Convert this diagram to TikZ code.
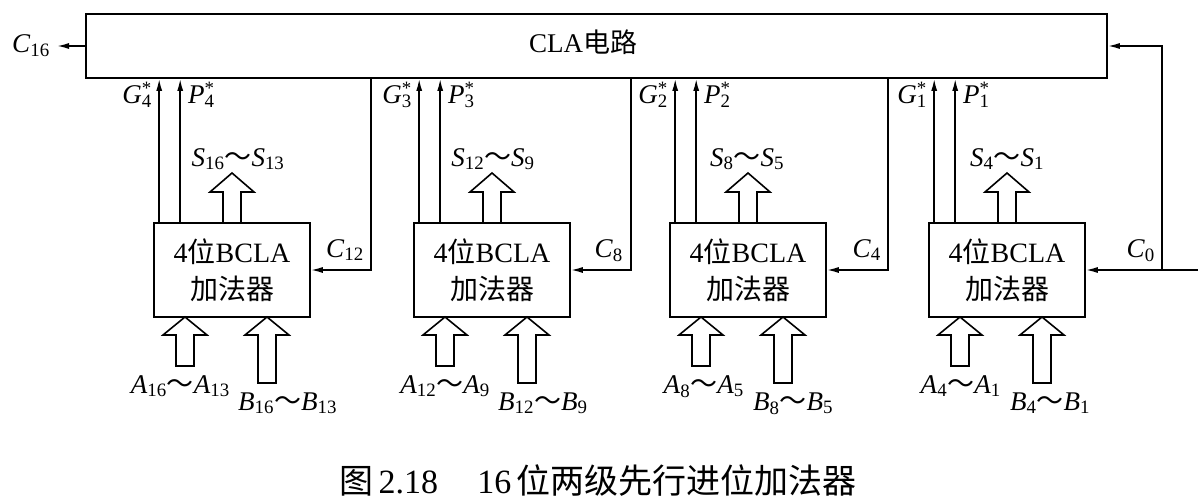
\documentclass[tikz,border=0pt]{standalone}
\usepackage{fontspec}
\setmainfont{Liberation Serif}
\newfontfamily\cjk{Noto Sans CJK SC}
\usetikzlibrary{arrows.meta}
\newcommand{\rng}[3]{\textit{#1}\textsubscript{#2}{\cjk ～}\textit{#1}\textsubscript{#3}}
\newcommand{\gp}[2]{\textit{#1}\rlap{\textsuperscript{*}}\textsubscript{#2}}
% hollow wide arrow: x, y of shaft end, y of tip, y of head base
\newcommand{\fatarrow}[4]{%
  \draw[line width=1.6pt, fill=white] (#1-9,#2) -- (#1-9,#4) -- (#1-22,#4) -- (#1,#3)
    -- (#1+22,#4) -- (#1+9,#4) -- (#1+9,#2) -- cycle;}
\tikzset{
  adder/.style={draw, line width=1.6pt, minimum width=156pt, minimum height=94pt,
    inner sep=0pt, align=center, font=\fontsize{28}{37}\selectfont},
  sig/.style={line width=1.6pt, -{Latex[length=12pt,width=6pt]}},
  lbl/.style={inner sep=0pt, font=\fontsize{27}{30}\selectfont}
}

\begin{document}
\begin{tikzpicture}[x=1pt, y=-1pt]
  \useasboundingbox (0,0) rectangle (1198,500);

  % === CLA CIRCUIT ===
  \node[draw, line width=1.6pt, minimum width=1021pt, minimum height=64pt, inner sep=0pt]
    (cla) at (596.5,46) {};
  \node[lbl, anchor=base] (clatext) at (583,53) {CLA{\cjk 电路}};

  \coordinate (cout) at (57,46);
  \draw[sig] (cla.west) -- (cout);
  \node[lbl, anchor=base east] (coutlbl) at (50,53) {\textit{C}\textsubscript{16}};

  % === BLOCK 1 ===
  \node[adder] (add1) at (232,270) {4{\cjk 位}BCLA\\{\cjk 加法器}};
  \coordinate (g1) at ([xshift=6pt]add1.north west);
  \coordinate (p1) at ([xshift=27pt]add1.north west);
  \coordinate (k1) at ([xshift=60pt]add1.east);
  \draw[sig] (g1) -- (g1 |- cla.south);
  \draw[sig] (p1) -- (p1 |- cla.south);
  \draw[sig] (k1 |- cla.south) |- (add1.east);
  \node[lbl, anchor=base east] at (152,104) {\gp{G}{4}};
  \node[lbl, anchor=base west] at (188,104) {\gp{P}{4}};
  \node[lbl, anchor=base east] at (364,257) {\textit{C}\textsubscript{12}};
  \fatarrow{232}{223}{173}{192}
  \node[lbl, anchor=base] at (238,166) {\rng{S}{16}{13}};
  \fatarrow{185}{366}{317}{335}
  \fatarrow{267}{383}{317}{335}
  \node[lbl, anchor=base east] at (230,393) {\rng{A}{16}{13}};
  \node[lbl, anchor=base west] at (238,410) {\rng{B}{16}{13}};

  % === BLOCK 2 ===
  \node[adder] (add2) at (492,270) {4{\cjk 位}BCLA\\{\cjk 加法器}};
  \coordinate (g2) at ([xshift=6pt]add2.north west);
  \coordinate (p2) at ([xshift=27pt]add2.north west);
  \coordinate (k2) at ([xshift=60pt]add2.east);
  \draw[sig] (g2) -- (g2 |- cla.south);
  \draw[sig] (p2) -- (p2 |- cla.south);
  \draw[sig] (k2 |- cla.south) |- (add2.east);
  \node[lbl, anchor=base east] at (412,104) {\gp{G}{3}};
  \node[lbl, anchor=base west] at (448,104) {\gp{P}{3}};
  \node[lbl, anchor=base east] at (623,257) {\textit{C}\textsubscript{8}};
  \fatarrow{492}{223}{173}{192}
  \node[lbl, anchor=base] at (493,166) {\rng{S}{12}{9}};
  \fatarrow{445}{366}{317}{335}
  \fatarrow{527}{383}{317}{335}
  \node[lbl, anchor=base east] at (490,393) {\rng{A}{12}{9}};
  \node[lbl, anchor=base west] at (498,410) {\rng{B}{12}{9}};

  % === BLOCK 3 ===
  \node[adder] (add3) at (748,270) {4{\cjk 位}BCLA\\{\cjk 加法器}};
  \coordinate (g3) at ([xshift=6pt]add3.north west);
  \coordinate (p3) at ([xshift=27pt]add3.north west);
  \coordinate (k3) at ([xshift=61pt]add3.east);
  \draw[sig] (g3) -- (g3 |- cla.south);
  \draw[sig] (p3) -- (p3 |- cla.south);
  \draw[sig] (k3 |- cla.south) |- (add3.east);
  \node[lbl, anchor=base east] at (668,104) {\gp{G}{2}};
  \node[lbl, anchor=base west] at (704,104) {\gp{P}{2}};
  \node[lbl, anchor=base east] at (881,257) {\textit{C}\textsubscript{4}};
  \fatarrow{748}{223}{173}{192}
  \node[lbl, anchor=base] at (747,166) {\rng{S}{8}{5}};
  \fatarrow{701}{366}{317}{335}
  \fatarrow{783}{383}{317}{335}
  \node[lbl, anchor=base east] at (744,393) {\rng{A}{8}{5}};
  \node[lbl, anchor=base west] at (753,410) {\rng{B}{8}{5}};

  % === BLOCK 4 ===
  \node[adder] (add4) at (1007,270) {4{\cjk 位}BCLA\\{\cjk 加法器}};
  \coordinate (g4) at ([xshift=6pt]add4.north west);
  \coordinate (p4) at ([xshift=27pt]add4.north west);
  \coordinate (k4) at (1162,270);
  \coordinate (cin) at (1198,270);
  \draw[sig] (g4) -- (g4 |- cla.south);
  \draw[sig] (p4) -- (p4 |- cla.south);
  \draw[sig] (cin) -- (add4.east);
  \draw[sig] (k4) |- (cla.east);
  \node[lbl, anchor=base east] at (927,104) {\gp{G}{1}};
  \node[lbl, anchor=base west] at (963,104) {\gp{P}{1}};
  \node[lbl, anchor=base east] at (1155,257) {\textit{C}\textsubscript{0}};
  \fatarrow{1007}{223}{173}{192}
  \node[lbl, anchor=base] at (1007,166) {\rng{S}{4}{1}};
  \fatarrow{960}{366}{317}{335}
  \fatarrow{1042}{383}{317}{335}
  \node[lbl, anchor=base east] at (1001,393) {\rng{A}{4}{1}};
  \node[lbl, anchor=base west] at (1010,410) {\rng{B}{4}{1}};

  % === CAPTION ===
  \node[anchor=base, inner sep=0pt, font=\fontsize{34}{40}\selectfont] (caption) at (598,493)
    {{\cjk 图}\,2.18\hspace{1.15em}16\,{\cjk 位两级先行进位加法器}};
\end{tikzpicture}
\end{document}
